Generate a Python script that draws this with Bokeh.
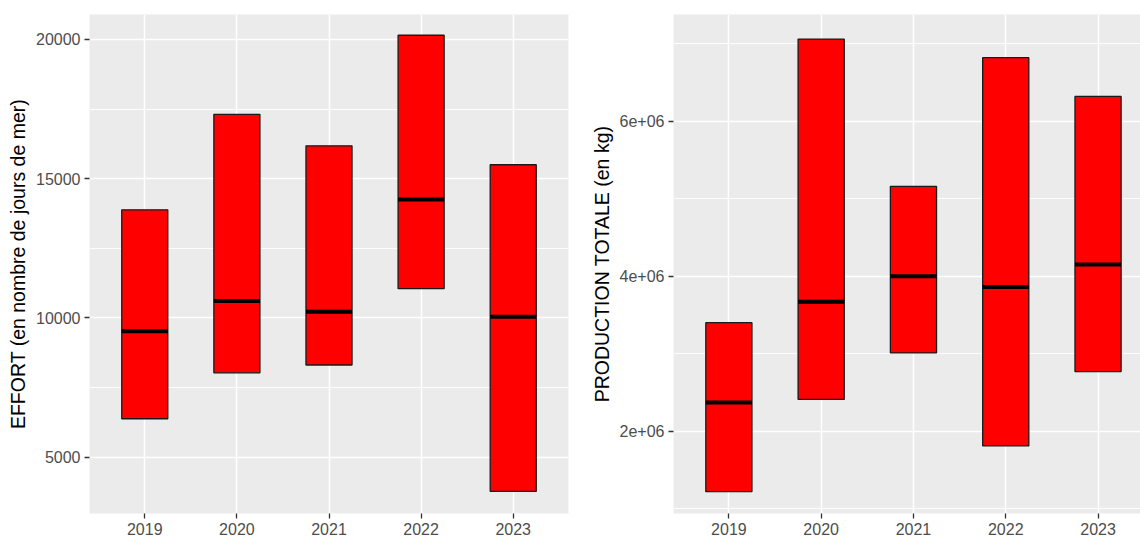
from bokeh.plotting import figure
from bokeh.layouts import row
from bokeh.models import Range1d, FixedTicker
from bokeh.embed import file_html
from bokeh.resources import INLINE

# ---- data ----
years = [2019, 2020, 2021, 2022, 2023]
year_labels = ["2019", "2020", "2021", "2022", "2023"]

effort_low = [6380, 8030, 8310, 11050, 3770]
effort_median = [9520, 10610, 10220, 14250, 10040]
effort_high = [13880, 17310, 16180, 20150, 15500]
effort_ticks = [5000, 10000, 15000, 20000]
effort_tick_labels = ["5000", "10000", "15000", "20000"]
effort_limits = [2977, 20895]

prod_low = [1.22e6, 2.41e6, 3.01e6, 1.81e6, 2.77e6]
prod_median = [2.37e6, 3.67e6, 4.00e6, 3.86e6, 4.15e6]
prod_high = [3.40e6, 7.06e6, 5.16e6, 6.82e6, 6.32e6]
prod_ticks = [2e6, 4e6, 6e6]
prod_tick_labels = ["2e+06", "4e+06", "6e+06"]
prod_limits = [0.938e6, 7.377e6]

FONT = "Liberation Sans"


def make_panel(lo, med, hi, ticks, tick_labels, limits, ylabel, width, x_end,
               b_left, b_right, b_top, b_bottom):
    p = figure(width=width, height=543,
               x_range=Range1d(years[0] - 0.6, x_end),
               y_range=Range1d(limits[0], limits[1]),
               output_backend="svg", toolbar_location=None,
               min_border_left=b_left, min_border_right=b_right,
               min_border_top=b_top, min_border_bottom=b_bottom)
    p.background_fill_color = "#EBEBEB"
    p.border_fill_color = "white"
    p.outline_line_color = None

    step = ticks[1] - ticks[0]
    minor = [t - step / 2 for t in ticks] + [ticks[-1] + step / 2]
    yt = FixedTicker(ticks=ticks, minor_ticks=minor)
    xt = FixedTicker(ticks=years)
    p.yaxis.ticker = yt
    p.ygrid.ticker = yt
    p.xaxis.ticker = xt
    p.xgrid.ticker = xt
    p.yaxis.major_label_overrides = dict(zip(ticks, tick_labels))
    p.xaxis.major_label_overrides = dict(zip(years, year_labels))

    for g in (p.xgrid, p.ygrid):
        g.grid_line_color = "white"
        g.grid_line_width = 1.5
    p.ygrid.minor_grid_line_color = "white"
    p.ygrid.minor_grid_line_width = 0.9

    for ax in (p.xaxis, p.yaxis):
        ax.axis_line_color = None
        ax.major_tick_line_color = "#333333"
        ax.major_tick_line_width = 1.3
        ax.major_tick_out = 5
        ax.major_tick_in = 0
        ax.minor_tick_line_color = None
        ax.major_label_text_font = FONT
        ax.major_label_text_font_size = "16px"
        ax.major_label_text_color = "#4D4D4D"
        ax.axis_label_text_font = FONT
        ax.axis_label_text_font_size = "19.5px"
        ax.axis_label_text_font_style = "normal"
        ax.axis_label_text_color = "black"
    p.yaxis.major_label_standoff = 4
    p.xaxis.major_label_standoff = 4
    p.xaxis.axis_label_standoff = 0
    p.yaxis.axis_label = ylabel
    p.yaxis.axis_label_standoff = 4

    p.vbar(x=years, width=0.5, bottom=lo, top=hi,
           fill_color="#FF0000", line_color="#1A1A1A", line_width=1.3)
    p.segment(x0=[y - 0.25 for y in years], x1=[y + 0.25 for y in years],
              y0=med, y1=med, line_color="black", line_width=4)
    return p


p1 = make_panel(effort_low, effort_median, effort_high, effort_ticks,
                effort_tick_labels, effort_limits,
                "EFFORT (en nombre de jours de mer)",
                585, years[-1] + 0.6, 89, 17, 14, 27)
p2 = make_panel(prod_low, prod_median, prod_high, prod_ticks,
                prod_tick_labels, prod_limits, "PRODUCTION TOTALE (en kg)",
                555, years[-1] + 0.46, 88, 0, 11, 30)

layout = row(p1, p2)
open("out.html", "w").write(file_html(layout, INLINE))
